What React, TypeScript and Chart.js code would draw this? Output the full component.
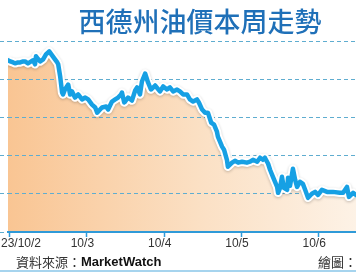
import React, { useEffect, useRef } from 'react';
import { Chart, registerables } from 'chart.js';

Chart.register(...registerables);

const titleText = '西德州油價本周走勢';
const sourceLabel = '資料來源：';
const sourceName = 'MarketWatch';
const creditLabel = '繪圖：';

// hours since 2023/10/2 00:00
const hours = [
  -0.5, 0.2, 1.1, 1.7, 2.6, 3.3, 4.2, 4.8, 5.7, 6.7, 7.3, 7.9, 8.2, 8.9, 9.5, 10.4, 11.3, 12.3, 13.2, 14.1,
  14.8, 15.1, 15.7, 16.3, 16.6, 17.2, 18.2, 18.8, 19.4, 20.3, 21.3, 22.5, 23.5, 24.4, 25.6, 26.6, 27.2, 28.1,
  28.7, 30.0, 30.6, 31.8, 32.8, 33.7, 34.6, 34.9, 35.6, 35.9, 36.8, 38.0, 39.0, 39.6, 40.5, 41.1, 42.1, 43.0,
  43.9, 45.2, 46.7, 47.7, 48.9, 49.8, 50.8, 52.0, 52.9, 53.9, 55.1, 56.0, 57.0, 58.2, 58.8, 59.8, 60.7, 61.6,
  62.6, 63.5, 64.4, 64.7, 66.0, 66.6, 67.5, 67.8, 69.1, 70.0, 71.0, 72.2, 73.7, 74.7, 75.6, 76.9, 77.8, 78.7,
  79.3, 80.3, 80.9, 81.8, 83.1, 83.4, 84.0, 84.6, 85.2, 86.2, 86.5, 87.1, 88.0, 88.7, 89.3, 90.2, 91.1, 91.8,
  92.7, 93.9, 94.9, 95.8, 97.0, 98.6, 100.4, 102.6, 103.6, 104.8, 105.4, 106.7, 107.6, 109.0,
];

// WTI price (USD)
const prices = [
  90.99, 90.93, 90.88, 90.83, 90.88, 90.88, 90.93, 90.93, 90.83, 90.93, 90.99, 90.78, 91.2, 91.04, 90.93, 91.04,
  91.3, 91.46, 91.25, 91.04, 90.88, 90.78, 90.15, 89.3, 89.2, 89.46, 89.72, 89.2, 89.36, 89.04, 89.2, 88.94,
  89.04, 88.94, 88.67, 88.52, 88.25, 88.41, 88.52, 88.57, 88.41, 88.83, 88.94, 89.04, 89.2, 89.3, 88.78, 88.83,
  89.04, 88.88, 89.41, 89.57, 89.2, 89.88, 90.3, 89.83, 89.46, 89.67, 89.36, 89.62, 89.46, 89.57, 89.36, 89.46,
  89.36, 89.2, 89.2, 88.94, 88.83, 88.94, 88.78, 88.41, 88.25, 88.25, 87.73, 87.62, 87.25, 86.99, 86.47, 86.31,
  85.78, 85.42, 85.63, 85.73, 85.63, 85.68, 85.63, 85.68, 85.78, 85.68, 85.89, 85.78, 85.89, 85.57, 85.26,
  84.89, 84.36, 84.05, 84.31, 84.89, 84.31, 84.21, 84.84, 84.42, 85.31, 84.73, 84.36, 84.63, 84.52, 84.21,
  83.79, 84.0, 84.1, 83.94, 84.21, 84.1, 84.1, 84.05, 84.05, 84.36, 83.84, 84.05, 83.94, 84.0,
];

const tickHours = [0, 24, 48, 72, 96];
const tickLabels = ['23/10/2', '10/3', '10/4', '10/5', '10/6'];

const xMin = -0.5;
const xMax = 107.6;
const yMin = 82;
const yMax = 92;
const yStep = 2;

const decorPlugin = {
  id: 'decor',
  beforeDatasetDraw(chart: any, args: any) {
    if (args.index === 1) {
      const ctx = chart.ctx;
      ctx.save();
      ctx.shadowColor = 'rgba(0,0,0,0.22)';
      ctx.shadowBlur = 3;
      ctx.shadowOffsetY = 1;
    }
  },
  afterDatasetDraw(chart: any, args: any) {
    if (args.index === 1) chart.ctx.restore();
  },
  afterDraw(chart: any) {
    const ctx = chart.ctx;
    const xs = chart.scales.x;
    ctx.save();
    // title
    ctx.fillStyle = '#1f70b8';
    ctx.font = '500 27px "Noto Sans CJK TC", "Noto Sans CJK SC", sans-serif';
    ctx.textAlign = 'center';
    ctx.textBaseline = 'middle';
    ctx.fillText(titleText, 200, 22);

    // x tick labels
    ctx.fillStyle = '#333333';
    ctx.font = '12px "Liberation Sans", Arial, sans-serif';
    ctx.textBaseline = 'middle';
    tickHours.forEach((h, i) => {
      const px = xs.getPixelForValue(h);
      if (i === 0) {
        ctx.textAlign = 'left';
        ctx.fillText(tickLabels[i], 1, 244);
      } else {
        ctx.textAlign = 'center';
        ctx.fillText(tickLabels[i], px - 4.5, 244);
      }
    });

    // source
    ctx.textAlign = 'left';
    ctx.font = '13px "Noto Sans CJK TC", sans-serif';
    ctx.fillStyle = '#333333';
    ctx.fillText(sourceLabel, 16, 262);
    const w = ctx.measureText(sourceLabel).width;
    ctx.font = 'bold 13px "Liberation Sans", Arial, sans-serif';
    ctx.fillStyle = '#111111';
    ctx.fillText(sourceName, 16 + w, 262);

    ctx.font = '13px "Noto Sans CJK TC", sans-serif';
    ctx.fillStyle = '#333333';
    ctx.fillText(creditLabel, 318, 262);

    // bottom rule
    ctx.fillStyle = '#a6d4ee';
    ctx.fillRect(0, 270, chart.width, 2);
    ctx.restore();
  },
};

export default function App() {
  const ref = useRef<HTMLCanvasElement | null>(null);

  useEffect(() => {
    const canvas = ref.current;
    if (!canvas) return;
    const pts = hours.map((h, i) => ({ x: h, y: prices[i] }));

    const chart = new Chart(canvas, {
      type: 'line',
      data: {
        datasets: [
          {
            data: pts,
            borderColor: '#16a0e4',
            borderWidth: 4.5,
            pointRadius: 0,
            tension: 0,
            fill: false,
            borderJoinStyle: 'round',
            borderCapStyle: 'round',
            order: 0,
          },
          {
            data: pts,
            borderColor: '#ffffff',
            borderWidth: 8.5,
            pointRadius: 0,
            tension: 0,
            fill: 'start',
            borderJoinStyle: 'round',
            backgroundColor: (c: any) => {
              const area = c.chart.chartArea;
              if (!area) return '#f9d2a8';
              const g = c.chart.ctx.createLinearGradient(area.left, 0, area.right, 0);
              g.addColorStop(0, '#f9c593');
              g.addColorStop(0.55, '#fbe0c4');
              g.addColorStop(1, '#fdf2e6');
              return g;
            },
            order: 1,
          },
        ],
      },
      options: {
        responsive: false,
        animation: false,
        layout: { padding: { top: 41, left: 0, right: 0, bottom: 0 } },
        plugins: {
          legend: { display: false },
          tooltip: { enabled: false },
          title: { display: false },
          filler: { drawTime: 'beforeDraw' },
        },
        scales: {
          x: {
            type: 'linear',
            min: xMin,
            max: xMax,
            afterBuildTicks: (s: any) => {
              s.ticks = tickHours.map((v) => ({ value: v }));
            },
            afterFit: (s: any) => {
              s.height = 40;
            },
            ticks: { display: false },
            grid: {
              drawOnChartArea: false,
              drawTicks: true,
              tickLength: 5,
              tickColor: '#2f9ad8',
              tickWidth: 1.5,
            },
            border: { display: true, color: '#2f9ad8', width: 2 },
          },
          y: {
            min: yMin,
            max: yMax,
            ticks: { display: false, stepSize: yStep },
            afterFit: (s: any) => {
              s.width = 8;
            },
            grid: {
              color: '#5fadd0',
              lineWidth: 1,
              drawTicks: true,
              tickLength: 8,
              tickColor: '#5fadd0',
              tickBorderDash: [4, 3],
            } as any,
            border: { display: false, dash: [4, 3] },
          },
        },
      } as any,
      plugins: [decorPlugin],
    });
    return () => chart.destroy();
  }, []);

  return (
    <div style={{ position: 'fixed', left: 0, top: 0, width: 356, height: 272, background: '#fff' }}>
      <canvas ref={ref} width={356} height={272} style={{ display: 'block' }} />
    </div>
  );
}
